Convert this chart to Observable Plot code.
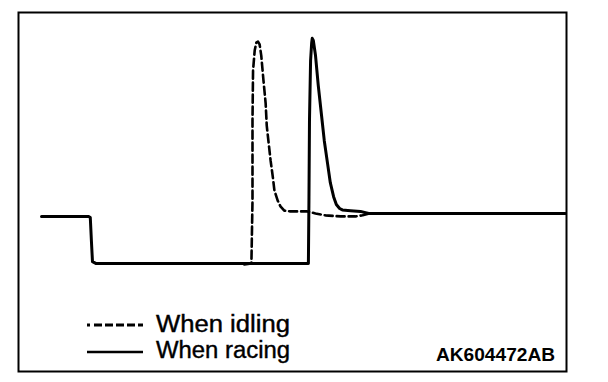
<!DOCTYPE html>
<html>
<head>
<meta charset="utf-8">
<script src="https://cdn.jsdelivr.net/npm/d3@7"></script>
<script src="https://cdn.jsdelivr.net/npm/@observablehq/plot@0.6"></script>
<style>
  html, body { margin: 0; padding: 0; background: #fff; }
  #wrap { position: relative; width: 608px; height: 382px; font-family: "Liberation Sans", Arial, Helvetica, sans-serif; }
  #wrap svg.plot { position: absolute; left: 0; top: 0; }
</style>
</head>
<body>
<div id="wrap"></div>
<script>
// Time axis (0–100, arbitrary units) and signal level (0–100, arbitrary units)
const racingTime  = [4.2, 12.8, 13.1, 13.3, 13.5, 14.1, 52.9, 53.0, 53.1, 53.3, 53.5, 53.6, 53.8, 54.2, 54.7, 55.3, 55.8, 56.4, 56.9, 57.5, 58.0, 58.6, 59.1, 60.6, 62.4, 63.9, 99.8];
const racingLevel = [43.2, 43.2, 42.9, 36.5, 30.6, 30.1, 30.1, 47.6, 69.9, 86.6, 91.6, 92.8, 92.2, 88.0, 79.7, 71.3, 64.3, 57.9, 52.6, 48.7, 46.5, 45.4, 45.0, 44.8, 44.6, 44.0, 44.0];

const idlingTime  = [41.2, 42.5, 42.7, 42.7, 42.8, 43.1, 43.4, 43.7, 44.0, 44.3, 44.7, 45.1, 45.3, 45.6, 46.0, 46.4, 46.7, 47.3, 47.8, 48.5, 49.6, 52.7, 54.2, 56.0, 58.8, 61.5, 62.8, 63.9];
const idlingLevel = [29.8, 30.1, 47.6, 69.9, 83.8, 89.4, 91.6, 91.9, 91.1, 88.0, 81.1, 74.7, 68.5, 64.3, 58.8, 54.3, 50.4, 47.6, 46.0, 44.8, 44.6, 44.6, 44.0, 43.5, 43.2, 43.2, 43.5, 44.0];

const seriesNames = ["When idling", "When racing"];
const figureCode = "AK604472AB";

const racing = racingTime.map((t, i) => ({t, v: racingLevel[i]}));
const idling = idlingTime.map((t, i) => ({t, v: idlingLevel[i]}));

const chart = Plot.plot({
  width: 608,
  height: 382,
  marginLeft: 18,
  marginRight: 42,
  marginTop: 12,
  marginBottom: 11,
  x: {domain: [0, 100], axis: null},
  y: {domain: [0, 100], axis: null},
  style: {background: "white"},
  marks: [
    Plot.frame({stroke: "black", strokeWidth: 2}),
    Plot.line(idling, {x: "t", y: "v", stroke: "black", strokeWidth: 2.6, strokeDasharray: "8,4", strokeLinejoin: "round"}),
    Plot.line(racing, {x: "t", y: "v", stroke: "black", strokeWidth: 3, strokeLinejoin: "round"})
  ]
});
chart.classList.add("plot");
const wrap = document.getElementById("wrap");
wrap.appendChild(chart);

// legend overlay
const ns = "http://www.w3.org/2000/svg";
const lg = document.createElementNS(ns, "svg");
lg.setAttribute("width", 608);
lg.setAttribute("height", 382);
lg.style.position = "absolute";
lg.style.left = "0";
lg.style.top = "0";
const samples = [
  {y: 325, dash: "3,4,8,3,8,3,8,3,8,3,8", w: 3},
  {y: 352, dash: null, w: 2.4}
];
samples.forEach(s => {
  const l = document.createElementNS(ns, "line");
  l.setAttribute("x1", 87); l.setAttribute("x2", 143);
  l.setAttribute("y1", s.y); l.setAttribute("y2", s.y);
  l.setAttribute("stroke", "black");
  l.setAttribute("stroke-width", s.w);
  if (s.dash) l.setAttribute("stroke-dasharray", s.dash);
  lg.appendChild(l);
});
const labelPos = [{x: 156, base: 332}, {x: 156, base: 358}];
seriesNames.forEach((name, i) => {
  const t = document.createElementNS(ns, "text");
  t.setAttribute("x", labelPos[i].x);
  t.setAttribute("y", labelPos[i].base);
  t.setAttribute("font-size", 23);
  t.setAttribute("font-family", "Liberation Sans, Arial, Helvetica, sans-serif");
  t.setAttribute("stroke", "black");
  t.setAttribute("stroke-width", 0.4);
  t.setAttribute("textLength", 134);
  t.setAttribute("lengthAdjust", "spacingAndGlyphs");
  t.textContent = name;
  lg.appendChild(t);
});
const code = document.createElementNS(ns, "text");
code.setAttribute("x", 555);
code.setAttribute("y", 361);
code.setAttribute("text-anchor", "end");
code.setAttribute("font-size", 18);
code.setAttribute("font-weight", "bold");
code.setAttribute("font-family", "Liberation Sans, Arial, Helvetica, sans-serif");
code.setAttribute("textLength", 119);
code.setAttribute("lengthAdjust", "spacingAndGlyphs");
code.textContent = figureCode;
lg.appendChild(code);
wrap.appendChild(lg);
</script>
</body>
</html>
